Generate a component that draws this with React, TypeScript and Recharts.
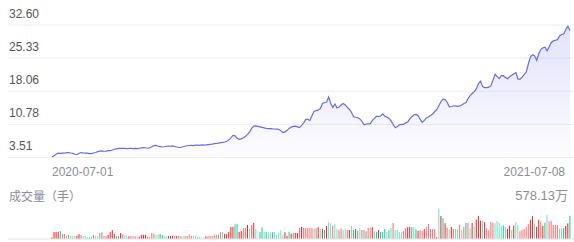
import React from "react";
import { AreaChart, Area, BarChart, Bar, Cell, XAxis, YAxis, CartesianGrid } from "recharts";

const startDate = "2020-07-01";
const endDate = "2021-07-08";
// weekdays the exchange was closed
const holidays = [
  "2020-10-01", "2020-10-02", "2020-10-05", "2020-10-06", "2020-10-07", "2020-10-08",
  "2021-01-01", "2021-02-11", "2021-02-12", "2021-02-15", "2021-02-16", "2021-02-17",
  "2021-04-05", "2021-05-03", "2021-05-04", "2021-05-05", "2021-06-14",
];

const priceTicks = [3.51, 10.78, 18.06, 25.33, 32.6];

const closes = [
  3.64, 3.9, 4.23, 4.45, 4.41, 4.49, 4.45, 4.56, 4.6, 4.49,
  4.41, 4.23, 4.12, 4.45, 4.6, 4.54, 4.49, 4.45, 4.38, 4.38,
  4.49, 4.6, 4.8, 4.93, 4.95, 4.88, 4.93, 5.02, 5.04, 5.15,
  5.32, 5.41, 5.5, 5.54, 5.5, 5.54, 5.48, 5.5, 5.54, 5.48,
  5.5, 5.48, 5.54, 5.61, 5.69, 5.65, 5.54, 5.65, 5.87, 6.13,
  6.15, 5.98, 5.91, 5.82, 5.87, 5.98, 6.02, 5.98, 6.04, 5.93,
  5.82, 5.71, 5.76, 5.87, 5.98, 6.09, 6.15, 6.19, 6.13, 6.22,
  6.24, 6.19, 6.26, 6.24, 6.28, 6.35, 6.41, 6.46, 6.54, 6.59,
  6.67, 6.76, 6.85, 6.91, 7.07, 7.39, 7.83, 8.38, 8.27, 7.72,
  7.5, 7.61, 7.83, 8.16, 8.59, 9.14, 9.9, 10.41, 10.45, 10.34,
  10.23, 10.12, 10.01, 9.9, 9.84, 9.86, 9.79, 9.77, 9.73, 9.69,
  9.36, 8.99, 9.14, 9.47, 9.9, 10.19, 10.34, 10.41, 10.23, 10.06,
  10.56, 11.11, 11.87, 11.87, 11.65, 12.74, 13.66, 13.79, 13.94, 14.27,
  15.36, 15.58, 15.69, 16.78, 15.36, 14.49, 15.25, 14.38, 14.6, 15.03,
  15.36, 15.03, 14.53, 14.05, 13.4, 12.46, 12.35, 12.24, 11.98, 11.43,
  10.67, 10.82, 10.89, 10.95, 11.65, 12.09, 12.57, 12.48, 12.63, 13.07,
  12.57, 12.41, 12.09, 11.54, 10.78, 10.06, 10.34, 10.67, 10.78, 10.78,
  11.11, 11.32, 11.98, 12.52, 12.89, 12.96, 12.68, 11.87, 11.21, 11.65,
  12.2, 12.41, 12.74, 13.07, 13.61, 14.05, 14.92, 15.8, 16.34, 16.23,
  15.58, 14.64, 14.71, 14.82, 14.86, 14.75, 14.86, 15.03, 15.36, 15.58,
  16.45, 17.11, 17.55, 17.98, 18.63, 19.72, 20.27, 19.07, 18.85, 18.85,
  18.96, 19.29, 20.49, 21.8, 21.25, 20.82, 21.47, 21.47, 21.04, 20.82,
  21.25, 21.58, 21.91, 22.13, 20.71, 20.71, 21.14, 21.69, 22.34, 24.09,
  25.62, 26.05, 25.83, 24.85, 26.27, 27.25, 27.58, 27.73, 26.93, 27.8,
  28.78, 29.11, 29.26, 29.39, 30.2, 30.53, 30.68, 31.62, 32.32, 31.4,
];

// 万手
const volumes = [
  29, 135, 135, 135, 154, 96, 96, 58, 77, 64,
  64, 64, 64, 96, 77, 58, 64, 39, 39, 39,
  77, 58, 58, 116, 129, 58, 58, 77, 135, 173,
  96, 52, 52, 116, 91, 77, 64, 52, 58, 52,
  52, 39, 44, 83, 83, 83, 44, 44, 116, 102,
  83, 83, 96, 77, 58, 55, 60, 57, 62, 56,
  59, 61, 54, 58, 60, 58, 83, 64, 64, 64,
  39, 39, 25, 29, 52, 58, 58, 58, 83, 83,
  83, 129, 129, 102, 96, 135, 231, 237, 283, 295,
  135, 154, 212, 212, 270, 198, 270, 308, 187, 154,
  135, 225, 135, 141, 129, 129, 129, 135, 83, 121,
  168, 83, 129, 58, 141, 102, 116, 116, 116, 212,
  231, 212, 212, 212, 212, 212, 198, 212, 225, 187,
  198, 173, 251, 322, 303, 256, 289, 198, 168, 206,
  173, 187, 173, 173, 251, 173, 193, 160, 212, 173,
  173, 148, 212, 212, 231, 154, 141, 173, 135, 135,
  193, 135, 168, 212, 308, 173, 173, 135, 135, 148,
  206, 225, 237, 225, 225, 187, 160, 168, 154, 193,
  237, 289, 193, 193, 193, 33, 578.13, 443, 399, 303,
  218, 173, 231, 193, 193, 193, 270, 173, 237, 308,
  308, 206, 308, 237, 372, 443, 353, 353, 328, 206,
  173, 328, 314, 303, 347, 314, 251, 264, 231, 193,
  256, 173, 256, 328, 276, 148, 173, 193, 237, 289,
  372, 443, 295, 237, 366, 333, 256, 314, 462, 341,
  353, 270, 270, 270, 198, 198, 212, 251, 303, 449,
];

// R up, r up (light), G down, g down (light), w flat
const barColorCodes =
  "RRRRGrrgrg" + "ggRRrggggg" + "rggrGrrRRR" + "RGGRrggRrr" + "rgRRRRrrrr" +
  "ggGGggRRRr" + "RrGgrrrrgg" + "ggggRrrrrr" + "GrgRRRRRGG" + "RRrrRgrRgw" +
  "GGgGggGggg" + "ggRRGRGRRr" + "Rrrrr" +
  "rgrRgRGRgg" + "rggrrggrRg" + "GRGgrrGrrR" + "gGRGGGgGgr" + "ggggrrRRGg" +
  "GRrrRrrrrr" + "RgRGRrgRrg" + "grgrGrgRgR" + "RRgRrrrrgg" + "ggGgRRgRgg" +
  "rrrrrRRgRR" + "rRGgrrrrrg" + "gGRRG";

const volumeLabel = "成交量（手）";
const volumeMaxLabel = "578.13万";

const palette: Record<string, string> = {
  R: "#fa1c1c",
  r: "#ff6b6b",
  G: "#14c89c",
  g: "#6fdfc5",
  w: "#e2e2e2",
};

function tradingDays(from: string, to: string, skip: string[]) {
  const out: string[] = [];
  const d = new Date(from + "T00:00:00Z");
  const end = new Date(to + "T00:00:00Z");
  while (d <= end) {
    const wd = d.getUTCDay();
    const s = d.toISOString().slice(0, 10);
    if (wd !== 0 && wd !== 6 && !skip.includes(s)) out.push(s);
    d.setUTCDate(d.getUTCDate() + 1);
  }
  return out;
}

const dates = tradingDays(startDate, endDate, holidays);
const n = Math.min(dates.length, closes.length, volumes.length);
const data = Array.from({ length: n }, (_, i) => ({
  date: dates[i],
  close: closes[i],
  volume: volumes[i],
  color: palette[barColorCodes[i]] || palette.w,
}));

const font = "'Liberation Sans', Arial, 'Noto Sans CJK SC', sans-serif";

const PriceTick = (props: any) => {
  const { y, payload } = props;
  return (
    <text x={9} y={y - 7.5} fill="#555" fontSize={12} fontFamily={font} textAnchor="start">
      {Number(payload.value).toFixed(2)}
    </text>
  );
};

const DateTick = (props: any) => {
  const { x, payload } = props;
  const first = payload.value === data[0].date;
  return (
    <text
      x={first ? x : x - 5}
      y={176}
      textAnchor={first ? "start" : "end"}
      fill="#8c8c9b"
      fontSize={12}
      fontFamily={font}
    >
      {payload.value}
    </text>
  );
};

export default function App() {
  return (
    <div
      style={{
        position: "absolute",
        left: 0,
        top: 0,
        width: 574,
        height: 242,
        background: "#fff",
        fontFamily: font,
        overflow: "hidden",
      }}
    >
      <AreaChart width={574} height={182} data={data} margin={{ top: 25, right: 0, left: 0, bottom: 0 }}>
        <defs>
          <linearGradient id="priceFill" x1="0" y1="0" x2="0" y2="1">
            <stop offset="0%" stopColor="#6a6af0" stopOpacity={0.32} />
            <stop offset="100%" stopColor="#6a6af0" stopOpacity={0.03} />
          </linearGradient>
        </defs>
        <CartesianGrid vertical={false} stroke="#eeeeee" />
        <XAxis
          dataKey="date"
          ticks={[data[0].date, data[n - 1].date]}
          interval={0}
          padding={{ left: 44, right: 4 }}
          axisLine={false}
          tickLine={false}
          height={24.5}
          tick={DateTick}
        />
        <YAxis
          domain={[3.51, 32.6]}
          ticks={priceTicks}
          width={8}
          interval={0}
          axisLine={false}
          tickLine={false}
          tick={PriceTick}
        />
        <Area
          type="linear"
          dataKey="close"
          stroke="#6a6af0"
          strokeWidth={1.2}
          fill="url(#priceFill)"
          dot={false}
          activeDot={false}
          isAnimationActive={false}
        />
      </AreaChart>

      <div style={{ position: "absolute", left: 9, top: 191, fontSize: 12, lineHeight: "12px", color: "#8c8c9b" }}>
        {volumeLabel}
      </div>
      <div style={{ position: "absolute", right: 6, top: 189, fontSize: 13, lineHeight: "13px", color: "#8c8c9b" }}>
        {volumeMaxLabel}
      </div>

      <div style={{ position: "absolute", left: 0, top: 200 }}>
        <BarChart
          width={574}
          height={42}
          data={data}
          margin={{ top: 9, right: 0, left: 8, bottom: 2 }}
          barCategoryGap="22%"
        >
          <XAxis
            dataKey="date"
            padding={{ left: 43, right: 3 }}
            height={1}
            tick={false}
            tickLine={false}
            axisLine={{ stroke: "#e4e4e4" }}
          />
          <YAxis hide domain={[0, 578.13]} />
          <Bar dataKey="volume" isAnimationActive={false}>
            {data.map((d, i) => (
              <Cell key={i} fill={d.color} />
            ))}
          </Bar>
        </BarChart>
      </div>
    </div>
  );
}
